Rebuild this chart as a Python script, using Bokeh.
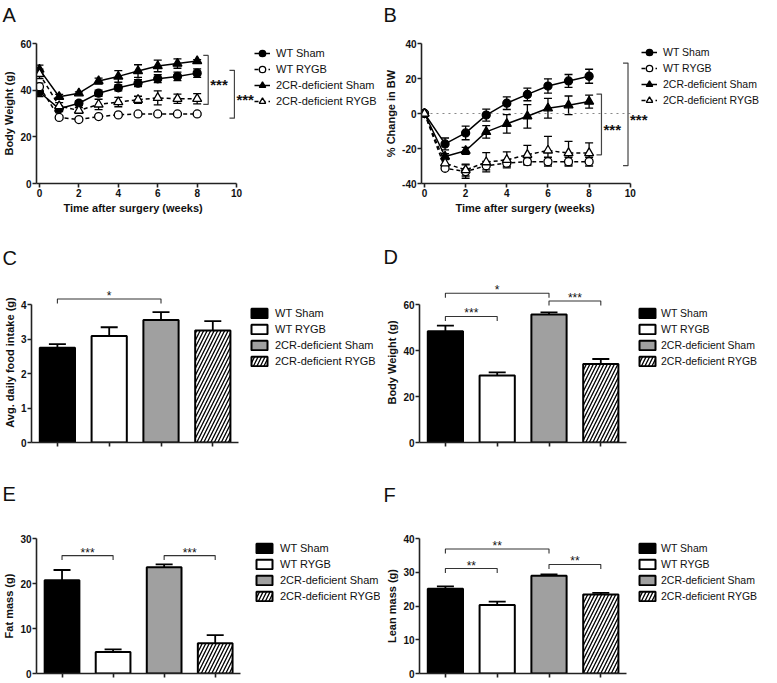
from bokeh.plotting import figure
from bokeh.layouts import column, row
from bokeh.models import (ColumnDataSource, Whisker, TeeHead, Legend, LegendItem,
                          FixedTicker, Range1d, Title)
from bokeh.core.properties import value
from bokeh.embed import file_html
from bokeh.resources import INLINE

FONT = "Liberation Sans"

# ---------------- data ----------------
groups = ["WT Sham", "WT RYGB", "2CR-deficient Sham", "2CR-deficient RYGB"]
weeks = [0, 1, 2, 3, 4, 5, 6, 7, 8]
x_title = "Time after surgery (weeks)"

# A: body weight (g) over time
a_wt_sham = [39.2, 32.0, 34.4, 38.7, 41.0, 43.0, 44.9, 45.9, 47.3]
a_wt_sham_err = [2.0, 1.2, 1.0, 1.3, 1.3, 1.5, 1.7, 1.8, 1.8]
a_wt_rygb = [41.5, 28.3, 27.4, 28.7, 29.4, 29.8, 29.8, 29.8, 29.8]
a_wt_rygb_err = [1.5, 0.8, 0.6, 0.5, 0.5, 0.5, 0.5, 0.5, 0.5]
a_ko_sham = [48.9, 37.2, 38.7, 43.9, 45.9, 48.2, 50.4, 51.4, 52.5]
a_ko_sham_err = [1.8, 1.0, 0.6, 1.3, 2.5, 2.7, 2.5, 2.0, 0.6]
a_ko_rygb = [47.0, 33.2, 31.3, 33.9, 34.9, 35.9, 36.7, 36.3, 36.3]
a_ko_rygb_err = [2.0, 1.5, 1.2, 2.2, 2.0, 1.5, 3.0, 2.0, 2.2]
a_sig_x = [8.56, 9.89]
a_sig_top = [54.9, 48.5]
a_sig_bottom = [33.9, 28.0]
a_sig_text = ["***", "***"]

# B: % change in body weight
b_wt_sham = [0, -17.4, -11.1, -0.9, 5.9, 10.9, 15.7, 18.6, 21.3]
b_wt_sham_err = [0, 3.4, 3.9, 3.4, 3.6, 3.6, 4.1, 3.7, 4.0]
b_wt_rygb = [0, -31.3, -33.2, -29.8, -28.4, -27.5, -27.5, -27.5, -27.5]
b_wt_rygb_err = [0, 1.0, 3.8, 2.4, 2.0, 2.0, 2.5, 2.5, 2.5]
b_ko_sham = [0, -24.6, -21.3, -10.5, -5.9, -1.6, 3.0, 4.7, 6.8]
b_ko_sham_err = [0, 1.6, 2.0, 3.6, 5.3, 6.7, 5.6, 5.3, 3.7]
b_ko_rygb = [0, -28.4, -32.3, -27.8, -26.5, -23.6, -21.1, -22.6, -22.6]
b_ko_rygb_err = [0, 2.0, 3.4, 5.5, 4.6, 5.4, 8.0, 6.7, 5.8]
b_sig_x = [8.6, 9.89]
b_sig_top = [11.1, 28.8]
b_sig_bottom = [-23.6, -29.8]
b_sig_text = ["***", "***"]

# C-F: bar panels
c_food = [2.75, 3.09, 3.55, 3.25]
c_food_err = [0.10, 0.25, 0.23, 0.27]
c_sig = [(1, 3, 4.16, "*")]

d_bw = [48.4, 29.1, 55.6, 34.1]
d_bw_err = [2.4, 1.4, 1.0, 2.2]
d_sig = [(1, 2, 54.8, "***"), (1, 3, 64.9, "*"), (3, 4, 61.5, "***")]

e_fat = [20.7, 4.77, 23.6, 6.72]
e_fat_err = [2.3, 0.58, 0.65, 1.8]
e_sig = [(1, 2, 26.2, "***"), (3, 4, 26.2, "***")]

f_lean = [25.1, 20.3, 29.0, 23.4]
f_lean_err = [0.7, 1.0, 0.4, 0.5]
f_sig = [(1, 2, 31.1, "**"), (1, 3, 36.9, "**"), (3, 4, 32.3, "**")]

X_AXIS_MAX = 10

# ---------------- styles ----------------
line_markers = ["circle", "circle", "triangle", "triangle"]
line_sizes = [8, 8, 9, 9]
line_fills = ["black", "white", "black", "white"]
line_dashes = ["solid", "4 3", "solid", "4 3"]
bar_fills = ["black", "white", "#a0a0a0", "white"]
bar_hatch = [None, None, None, "/"]
INK = "#111111"
TOTAL_W = 761


def letter_strip(h, letters, xs, ys):
    """A thin full-width strip that carries the panel letters."""
    p = figure(width=TOTAL_W, height=h, x_range=Range1d(0, TOTAL_W), y_range=Range1d(h, 0),
               output_backend="svg", toolbar_location=None, min_border=0,
               x_axis_location=None, y_axis_location=None)
    p.grid.visible = False
    p.outline_line_color = None
    p.text(x=xs, y=ys, text=letters, text_font=value(FONT), text_font_size=value("20px"),
           text_color=INK, text_align="left", text_baseline="top")
    return p


def base_fig(w, h, borders, x_rng, y_rng):
    l, r, t, b = borders
    p = figure(width=w, height=h, x_range=Range1d(*x_rng), y_range=Range1d(*y_rng),
               output_backend="svg", toolbar_location=None,
               min_border_left=l, min_border_right=r,
               min_border_top=t, min_border_bottom=b)
    p.grid.visible = False
    p.outline_line_color = None
    p.background_fill_color = "white"
    p.border_fill_color = "white"
    for ax in (p.xaxis[0], p.yaxis[0]):
        ax.axis_line_width = 1.6
        ax.axis_line_color = "#222222"
        ax.major_tick_line_width = 1.6
        ax.major_tick_line_color = "#222222"
        ax.major_tick_in = 0
        ax.major_tick_out = 4
        ax.minor_tick_line_color = None
        ax.major_label_text_font = FONT
        ax.major_label_text_font_size = "10px"
        ax.major_label_text_font_style = "bold"
        ax.major_label_text_color = INK
        ax.major_label_standoff = 1
        ax.axis_label_text_font = FONT
        ax.axis_label_text_font_size = "11px"
        ax.axis_label_text_font_style = "bold"
        ax.axis_label_text_color = INK
        ax.axis_label_standoff = 2
    return p


def add_legend(p, items, loc, gw, gh, lh, sp, so, fs):
    leg = Legend(items=items, location=loc, orientation="vertical",
                 background_fill_alpha=0, border_line_color=None, padding=0, margin=0,
                 label_text_font=FONT, label_text_font_size=fs, label_text_color=INK,
                 glyph_width=gw, glyph_height=gh, label_height=lh, spacing=sp,
                 label_standoff=so)
    p.add_layout(leg)


def line_panel(w, h, borders, px_unit, x_off, y_rng, yticks, ylabel, means, errs,
               sig_x, sig_top, sig_bottom, sig_text, legend_loc, legend_fs,
               xlabel_offset, tick_overrides=None, zero_line=False):
    l, r, t, b = borders
    fw = w - l - r
    x0 = -x_off / px_unit
    p = base_fig(w, h, borders, (x0, x0 + fw / px_unit), y_rng)
    p.xaxis.ticker = FixedTicker(ticks=list(range(0, X_AXIS_MAX + 1, 2)))
    p.xaxis.bounds = (x0, X_AXIS_MAX)
    p.yaxis.ticker = FixedTicker(ticks=yticks)
    if tick_overrides:
        p.yaxis.major_label_overrides = tick_overrides
    p.yaxis.axis_label = ylabel
    # x-axis title, aligned under the bounded axis (frame extends further right)
    p.add_layout(Title(text=x_title, align="left", offset=xlabel_offset,
                       vertical_align="bottom", standoff=0, text_font=FONT,
                       text_font_size="11px", text_font_style="bold",
                       text_color=INK), "below")
    if zero_line:
        p.line(x=[0, X_AXIS_MAX], y=[0, 0], line_color="#888888", line_width=1,
               line_dash="dotted")
    items = []
    for k in range(4):
        m, e = means[k], errs[k]
        src = ColumnDataSource(dict(x=weeks, y=m,
                                    lo=[a - d for a, d in zip(m, e)],
                                    hi=[a + d for a, d in zip(m, e)]))
        p.add_layout(Whisker(source=src, base="x", lower="lo", upper="hi",
                             line_color="black", line_width=1.3,
                             upper_head=TeeHead(size=8, line_width=1.3, line_color="black"),
                             lower_head=TeeHead(size=8, line_width=1.3, line_color="black")))
        lr = p.line("x", "y", source=src, line_color="black", line_width=1.5,
                    line_dash=line_dashes[k])
        sr = p.scatter("x", "y", source=src, marker=line_markers[k], size=line_sizes[k],
                       fill_color=line_fills[k], line_color="black", line_width=1.3)
        items.append(LegendItem(label=groups[k], renderers=[lr, sr]))
    tick = 5.0 / px_unit
    xs = [[sx - tick, sx, sx, sx - tick] for sx in sig_x]
    ys = [[a, a, c, c] for a, c in zip(sig_top, sig_bottom)]
    p.multi_line(xs, ys, line_color="#444444", line_width=1.2)
    p.text(x=sig_x, y=[(a + c) / 2 for a, c in zip(sig_top, sig_bottom)], text=sig_text,
           text_font=value(FONT), text_font_size=value("15px"), text_font_style="bold",
           text_color=INK, text_align="left", text_baseline="middle",
           x_offset=2, y_offset=5)
    add_legend(p, items, legend_loc, 16, 16, 16, 0, 6, legend_fs)
    return p


def bar_panel(w, h, borders, px_unit_x, y_top, y_bounds_top, yticks, ylabel, vals, errs,
              sigs, legend_loc, legend_fs, legend_so):
    l, r, t, b = borders
    fw = w - l - r
    p = base_fig(w, h, borders, (0.5, 0.5 + fw / px_unit_x), (0, y_top))
    pos = [1, 2, 3, 4]
    p.xaxis.ticker = FixedTicker(ticks=pos)
    p.xaxis.major_label_overrides = {k: "" for k in pos}
    p.xaxis.major_label_text_font_size = "0px"
    p.xaxis.major_label_standoff = 0
    p.xaxis.bounds = (0.5, 4.5)
    p.yaxis.ticker = FixedTicker(ticks=yticks)
    p.yaxis.bounds = (0, y_bounds_top)
    p.yaxis.axis_label = ylabel
    fh = h - t - b
    px_unit_y = fh / y_top
    items = []
    for k in range(4):
        src = ColumnDataSource(dict(x=[pos[k]], top=[vals[k]], lo=[vals[k]],
                                    hi=[vals[k] + errs[k]]))
        p.add_layout(Whisker(source=src, base="x", lower="lo", upper="hi",
                             line_color="black", line_width=1.8, lower_head=None,
                             upper_head=TeeHead(size=17, line_width=1.8, line_color="black")))
        vr = p.vbar(x="x", top="top", bottom=0, width=0.68, source=src,
                    fill_color=bar_fills[k], line_color="black", line_width=2,
                    hatch_pattern=bar_hatch[k], hatch_color="black", hatch_weight=1.3,
                    hatch_scale=7)
        items.append(LegendItem(label=groups[k], renderers=[vr]))
    tick = 4.5 / px_unit_y
    xs = [[i, i, j, j] for i, j, hgt, s in sigs]
    ys = [[hgt - tick, hgt, hgt, hgt - tick] for i, j, hgt, s in sigs]
    p.multi_line(xs, ys, line_color="#333333", line_width=1.1)
    p.text(x=[(i + j) / 2 for i, j, hgt, s in sigs], y=[hgt for i, j, hgt, s in sigs],
           text=[s for i, j, hgt, s in sigs], text_font=value(FONT),
           text_font_size=value("12px"), text_color=INK, text_align="center",
           text_baseline="middle", y_offset=-3)
    add_legend(p, items, legend_loc, 20, 12, 12, 4, legend_so, legend_fs)
    return p


WL, WR = 382, 379
S1, H1 = 28, 202
S2, H2 = 40, 180
S3, H3 = 60, 170

strip1 = letter_strip(S1, ["A", "B"], [2, 383], [3, 3])
strip2 = letter_strip(S2, ["C", "D"], [2, 383], [16, 15])
strip3 = letter_strip(S3, ["E", "F"], [2, 383], [32, 33])

pA = line_panel(WL, H1, (31, 2, 15, 47), 20.0, 3, (0, 60), [0, 20, 40, 60],
                "Body Weight (g)",
                [a_wt_sham, a_wt_rygb, a_ko_sham, a_ko_rygb],
                [a_wt_sham_err, a_wt_rygb_err, a_ko_sham_err, a_ko_rygb_err],
                a_sig_x, a_sig_top, a_sig_bottom, a_sig_text, (218, 74), "11px", 27)

pB = line_panel(WR, H1, (37, 0, 15, 47), 20.7, 3, (-40, 40), [-40, -20, 0, 20, 40],
                "% Change in BW",
                [b_wt_sham, b_wt_rygb, b_ko_sham, b_ko_rygb],
                [b_wt_sham_err, b_wt_rygb_err, b_ko_sham_err, b_ko_rygb_err],
                b_sig_x, b_sig_top, b_sig_bottom, b_sig_text, (220, 75), "10.5px", 34,
                tick_overrides={-40: "-40", -20: "-20"}, zero_line=True)

pC = bar_panel(WL, H2, (31, 2, 12, 8), 51.8, 160 / 34.5, 4, [0, 1, 2, 3, 4],
               "Avg. daily food intake (g)", c_food, c_food_err, c_sig, (218, 75),
               "11px", 6)

pD = bar_panel(WR, H2, (37, 0, 12, 8), 51.8, 160 / 2.3, 60, [0, 20, 40, 60],
               "Body Weight (g)", d_bw, d_bw_err, d_sig, (218, 75), "10.5px", 4)

pE = bar_panel(WL, H3, (31, 2, 28, 7), 51.8, 30, 30, [0, 10, 20, 30],
               "Fat mass (g)", e_fat, e_fat_err, e_sig, (218, 71), "11px", 6)

pF = bar_panel(WR, H3, (37, 0, 28, 7), 51.8, 40, 40, [0, 10, 20, 30, 40],
               "Lean mass (g)", f_lean, f_lean_err, f_sig, (218, 71), "10.5px", 4)

layout = column(strip1, row(pA, pB), strip2, row(pC, pD), strip3, row(pE, pF))
open("out.html", "w").write(file_html(layout, INLINE))
